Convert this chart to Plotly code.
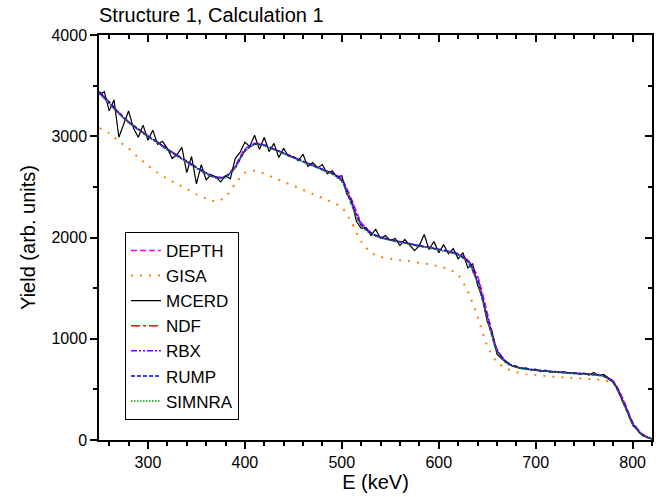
import plotly.graph_objects as go

# ---------------- data ----------------
sim_E = [250, 260, 270, 280, 290, 300, 310, 320, 330, 340, 350, 360, 370, 380, 390,
         400, 410, 420, 430, 440, 450, 460, 470, 480, 490, 500, 510, 520, 530, 540,
         550, 560, 570, 580, 590, 600, 610, 620, 630, 640, 650, 660, 670, 680, 690,
         700, 710, 720, 730, 740, 750, 760, 770, 780, 790, 800, 810, 820]

depth = [3440, 3340, 3235, 3145, 3075, 3005, 2945, 2875, 2815, 2755, 2695, 2640, 2598, 2605, 2710,
         2875, 2930, 2915, 2875, 2835, 2795, 2755, 2715, 2675, 2640, 2580, 2380, 2150, 2050, 2005,
         1980, 1960, 1940, 1920, 1905, 1885, 1865, 1840, 1780, 1620, 1260, 900, 770, 722, 702,
         692, 682, 674, 667, 660, 654, 648, 636, 585, 410, 180, 60, 12]

gisa = [3080, 3030, 2950, 2880, 2790, 2710, 2640, 2580, 2530, 2480, 2425, 2385, 2355, 2400, 2530,
        2640, 2660, 2630, 2590, 2550, 2510, 2470, 2430, 2390, 2350, 2300, 2150, 1960, 1850, 1810,
        1790, 1775, 1765, 1750, 1735, 1715, 1690, 1630, 1470, 1220, 930, 770, 705, 670, 650,
        640, 632, 625, 618, 612, 606, 600, 590, 560, 380, 150, 45, 8]

ndf = [3430, 3330, 3230, 3140, 3070, 3000, 2940, 2870, 2810, 2750, 2690, 2635, 2593, 2595, 2690,
       2855, 2920, 2910, 2870, 2830, 2790, 2750, 2710, 2670, 2630, 2560, 2330, 2120, 2040, 2000,
       1975, 1955, 1935, 1915, 1900, 1880, 1860, 1830, 1760, 1560, 1200, 880, 760, 720, 700,
       690, 680, 672, 665, 658, 652, 645, 630, 570, 380, 160, 50, 10]

rbx = [3425, 3325, 3225, 3135, 3065, 2995, 2935, 2865, 2805, 2745, 2685, 2630, 2588, 2595, 2695,
       2865, 2925, 2912, 2872, 2832, 2792, 2752, 2712, 2672, 2635, 2570, 2360, 2135, 2045, 2002,
       1978, 1958, 1938, 1918, 1902, 1882, 1862, 1836, 1775, 1600, 1240, 895, 765, 722, 701,
       691, 681, 673, 666, 659, 653, 646, 634, 580, 400, 172, 55, 11]

rump = [3440, 3338, 3232, 3142, 3072, 3002, 2942, 2872, 2812, 2752, 2692, 2637, 2595, 2597, 2692,
        2857, 2922, 2912, 2872, 2832, 2792, 2752, 2712, 2672, 2632, 2562, 2335, 2125, 2042, 2002,
        1977, 1957, 1937, 1917, 1902, 1882, 1862, 1832, 1765, 1570, 1210, 885, 762, 721, 701,
        691, 681, 673, 666, 659, 653, 646, 631, 572, 385, 162, 51, 10]

simnra = [3420, 3320, 3222, 3135, 3065, 2995, 2935, 2866, 2806, 2746, 2686, 2631, 2589, 2593, 2688,
          2850, 2915, 2905, 2866, 2826, 2786, 2746, 2706, 2666, 2626, 2555, 2325, 2115, 2035, 1996,
          1972, 1952, 1932, 1912, 1897, 1877, 1857, 1826, 1755, 1555, 1195, 875, 756, 717, 698,
          688, 678, 670, 663, 656, 650, 643, 628, 567, 375, 156, 48, 9]

mcerd_E = [250, 255, 260, 265, 270, 275, 280, 285, 290, 295, 300, 305, 310, 315, 320, 325,
           330, 335, 340, 345, 350, 355, 360, 365, 370, 375, 380, 385, 390, 395, 400, 405,
           410, 415, 420, 425, 430, 435, 440, 445, 450, 455, 460, 465, 470, 475, 480, 485,
           490, 495, 500, 505, 510, 515, 520, 525, 530, 535, 540, 545, 550, 555, 560, 565,
           570, 575, 580, 585, 590, 595, 600, 605, 610, 615, 620, 625, 630, 635, 640, 645,
           650, 655, 660, 665, 670, 675, 680, 685, 690, 695, 700, 705, 710, 715, 720, 725,
           730, 735, 740, 745, 750, 755, 760, 765, 770, 775, 780, 785, 790, 795, 800, 805,
           810, 815, 820]

mcerd = [3410, 3440, 3250, 3360, 2990, 3120, 3250, 3080, 2990, 3110, 2960, 3060, 2920, 2950, 2880, 2780,
         2820, 2890, 2640, 2800, 2530, 2720, 2570, 2620, 2600, 2550, 2610, 2580, 2780, 2840, 2940, 2900,
         3010, 2870, 2990, 2850, 2930, 2790, 2880, 2800, 2800, 2760, 2820, 2700, 2740, 2690, 2720, 2630,
         2660, 2600, 2610, 2430, 2370, 2160, 2090, 2100, 2020, 2080, 1990, 2020, 1970, 1990, 1920, 1980,
         1930, 1870, 1920, 2030, 1880, 1960, 1850, 1930, 1840, 1890, 1790, 1850, 1700, 1740, 1530, 1410,
         1170, 1070, 850, 800, 775, 735, 730, 705, 712, 692, 700, 676, 690, 670, 678, 665,
         672, 655, 665, 650, 660, 642, 668, 635, 648, 615, 565, 500, 370, 280, 150, 100,
         45, 28, 8]

# ---------------- figure ----------------
FONT = "Liberation Sans, Arial, sans-serif"
fig = go.Figure()

series = [
    ("DEPTH", sim_E, depth, "#ff00ff", "6px,3px", 1.5),
    ("GISA", sim_E, gisa, "#ff8000", "2px,7px", 2),
    ("MCERD", mcerd_E, mcerd, "#000000", "solid", 1.2),
    ("NDF", sim_E, ndf, "#ff0000", "dashdot", 1.5),
    ("RBX", sim_E, rbx, "#8000ff", "6px,2px,2px,2px,2px,2px", 1.5),
    ("RUMP", sim_E, rump, "#0000ff", "4px,2px", 1.5),
    ("SIMNRA", sim_E, simnra, "#00a000", "1.5px,1.5px", 1.5),
]
for name, xs, ys, col, dash, w in series:
    fig.add_trace(go.Scatter(
        x=xs, y=ys, name=name, mode="lines",
        line=dict(color=col, dash=dash, width=w,
                  shape="spline" if name != "MCERD" else "linear", smoothing=0.6),
    ))

# invisible trace to host mirror axes
fig.add_trace(go.Scatter(x=[None], y=[None], xaxis="x2", yaxis="y2",
                         showlegend=False, hoverinfo="skip"))

xr = [249.5, 820]
yr = [0, 4000]
axis_common = dict(showgrid=False, zeroline=False, showline=True, linecolor="black",
                   linewidth=1.5, automargin=False)

fig.update_layout(
    width=662, height=497,
    margin=dict(l=99, r=10, t=35, b=57, autoexpand=False),
    paper_bgcolor="white", plot_bgcolor="white",
    font=dict(family=FONT, color="black"),
    title=dict(text="Structure 1, Calculation 1", x=0.0, xref="paper", xanchor="left",
               y=1 - 15 / 497, yref="container", yanchor="middle",
               font=dict(size=20, family=FONT, color="black"), automargin=False),
    xaxis=dict(range=xr, dtick=100, tick0=0, ticks="outside", ticklen=7, tickwidth=1.5,
               tickcolor="black", tickfont=dict(size=16),
               minor=dict(dtick=20, tick0=0, ticks="outside", ticklen=4, tickwidth=1.5,
                          tickcolor="black"),
               title=dict(text="E (keV)", font=dict(size=20), standoff=4),
               **axis_common),
    yaxis=dict(range=yr, dtick=1000, tick0=0, ticks="outside", ticklen=7, tickwidth=1.5,
               tickcolor="black", tickfont=dict(size=16),
               minor=dict(dtick=500, tick0=0, ticks="outside", ticklen=4, tickwidth=1.5,
                          tickcolor="black"),
               title=dict(text="Yield (arb. units)", font=dict(size=20), standoff=10),
               **axis_common),
    xaxis2=dict(range=xr, overlaying="x", side="top", anchor="y2", dtick=100, tick0=0,
                ticks="inside", ticklen=7, tickwidth=1.5, tickcolor="black",
                showticklabels=False,
                minor=dict(dtick=20, tick0=0, ticks="inside", ticklen=4, tickwidth=1.5,
                           tickcolor="black"),
                **axis_common),
    yaxis2=dict(range=yr, overlaying="y", side="right", anchor="x2", dtick=1000, tick0=0,
                ticks="inside", ticklen=7, tickwidth=1.5, tickcolor="black",
                showticklabels=False,
                minor=dict(dtick=500, tick0=0, ticks="inside", ticklen=4, tickwidth=1.5,
                           tickcolor="black"),
                **axis_common),
    legend=dict(x=0.047, y=0.514, xanchor="left", yanchor="top",
                bgcolor="white", bordercolor="black", borderwidth=1,
                font=dict(size=17, family=FONT), tracegroupgap=0),
    showlegend=True,
)

fig.write_html("out.html",
               config={"displayModeBar": False},
               post_script="document.body.style.margin='0';document.body.style.padding='0';")
